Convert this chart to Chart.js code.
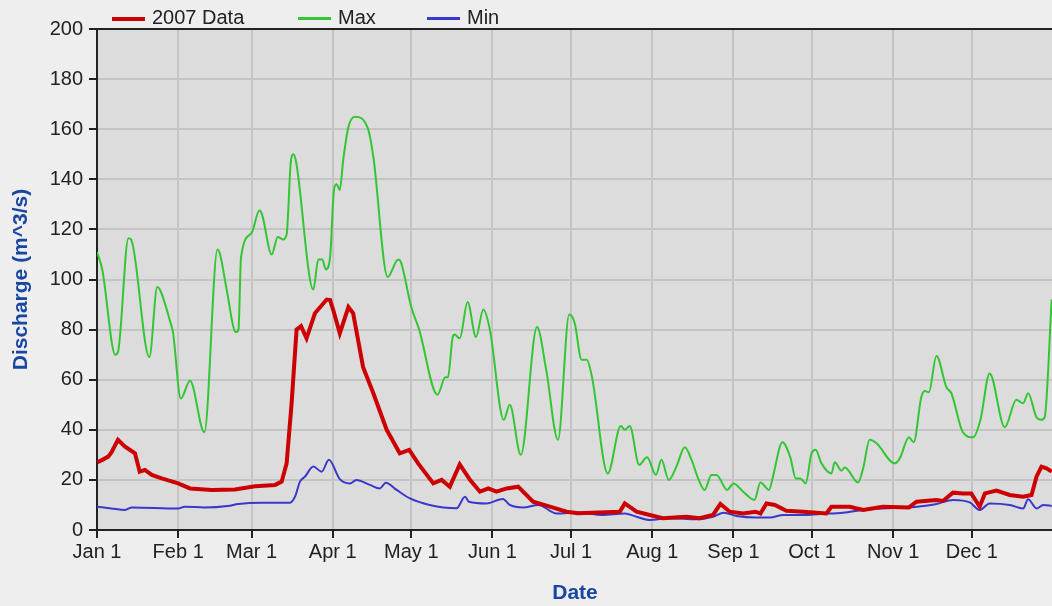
<!DOCTYPE html>
<html>
<head>
<meta charset="utf-8">
<script src="https://cdn.jsdelivr.net/npm/chart.js@4.4.1/dist/chart.umd.min.js"></script>
<style>
html, body { margin: 0; padding: 0; background: #eeeeee; overflow: hidden; }
#wrap { position: relative; width: 1052px; height: 606px; overflow: hidden; }
#chart { position: absolute; left: 0; top: 0; }
#legend { position: absolute; left: 0; top: 0; font: 20px "Liberation Sans", Arial, sans-serif; color: #222; }
.item { position: absolute; top: 5px; white-space: nowrap; line-height: 24px; }
.swatch { display: inline-block; width: 33px; vertical-align: middle; margin-right: 7px; }
</style>
</head>
<body>
<div id="wrap">
  <canvas id="chart" width="1062" height="606"></canvas>
  <div id="legend"></div>
</div>
<script>
// day of year (0 = Jan 1) for each month tick
var monthStarts = [0, 31, 59, 90, 120, 151, 181, 212, 243, 273, 304, 334];
var monthLabels = ['Jan 1', 'Feb 1', 'Mar 1', 'Apr 1', 'May 1', 'Jun 1', 'Jul 1', 'Aug 1', 'Sep 1', 'Oct 1', 'Nov 1', 'Dec 1'];

// 2007 Data
var dataDays = [0, 2, 4.3, 5.5, 8, 10.7, 14.5, 15.8, 16.3, 18.3, 20.9, 24.7, 31, 35.5, 43.8, 52.7, 60.3, 68, 70.5, 72.4, 74.3, 76.2, 77.9, 80, 83.2, 87.7, 89, 90.2, 92.7, 96, 97.8, 101.6, 105.5, 110.6, 115.6, 119.2, 122.6, 128.4, 131.6, 134.7, 138.5, 142.4, 146.2, 149.4, 152.5, 156.4, 160.8, 166.5, 172.9, 179.3, 183.6, 199.6, 201.5, 206, 211, 216, 225, 230, 235.2, 238, 241.6, 246.7, 251.4, 253.3, 255.6, 258.8, 263.2, 269.6, 278.5, 280.4, 287.4, 292.5, 300, 310, 312.9, 320.5, 323, 326.8, 330.6, 333.8, 337, 339, 343.4, 348.5, 353.6, 356.8, 358.7, 360.6, 362.5, 364.5];
var dataVals = [27, 28, 29.3, 31, 36, 33.3, 30.6, 25.3, 23.3, 24, 22, 20.6, 18.6, 16.6, 16, 16.2, 17.5, 18, 19.3, 26.6, 50.6, 80, 81.4, 76.5, 86.5, 92, 91.8, 87.8, 78.5, 89, 86.5, 65, 54.6, 40, 30.6, 32, 26.6, 18.6, 20, 17.3, 26.2, 20, 15.3, 16.6, 15.3, 16.6, 17.3, 11.3, 9.3, 7.3, 6.7, 7.3, 10.6, 7.3, 6, 4.7, 5.3, 4.7, 6, 10.4, 7.3, 6.6, 7.3, 6.6, 10.6, 10, 7.7, 7.3, 6.6, 9.3, 9.3, 8, 9.3, 9, 11.3, 12, 11.6, 14.9, 14.6, 14.6, 9.3, 14.6, 15.7, 14, 13.3, 14, 21.3, 25.3, 24.6, 23.3];

// Max
var maxDays = [0, 2, 7, 8, 12, 13, 20, 23, 24, 28, 29, 32, 35.5, 41, 46, 47, 49.5, 53, 54, 55, 59, 62, 63, 66.7, 69, 71, 72.4, 74, 75, 76, 82.6, 84.5, 86, 87.4, 89, 90.5, 91.5, 92.7, 94, 96, 98.5, 103.5, 105.5, 111, 115, 116, 120, 123, 130, 133, 134, 135.8, 136.5, 138.5, 141.5, 144.7, 147.5, 150, 155.3, 157.6, 161.8, 168, 171.5, 176, 180.3, 182.4, 185, 187, 189, 195, 200, 201.5, 203.4, 207, 210, 213.4, 215.5, 218.3, 221.3, 224.4, 227, 229.5, 232, 234.6, 236.5, 240.6, 243, 246.7, 251, 253.3, 256.6, 258, 261.7, 264.7, 266.8, 268.5, 270.6, 272.8, 274.4, 276.6, 280.4, 281.7, 284.2, 285.5, 290.6, 292.5, 295, 297.6, 304.6, 306.5, 310, 311.8, 314.7, 316, 317.6, 320.5, 324.3, 326.2, 330.6, 334.5, 337.3, 340.8, 346.6, 351, 353.6, 355.5, 358.7, 360.5, 361.8, 364.5];
var maxVals = [111, 104, 70, 71, 116.5, 116, 69, 97, 96, 83, 79, 52.5, 59.6, 39, 112, 110, 96, 79, 80, 109, 118.5, 127.5, 126, 110, 117, 116, 118, 147, 150, 147, 96, 108, 108, 104, 109, 136, 138, 135.7, 147.7, 161, 165, 160, 149, 101, 108, 107, 89, 80, 54, 61, 61, 77, 78, 76.5, 91, 77, 88, 80, 44, 50, 30, 81, 64, 36, 86, 82.5, 68, 68, 61, 22.6, 41.5, 40, 41.5, 26, 29, 22, 28, 20, 25.5, 33, 28, 20.6, 16, 22, 22, 16, 18.6, 15.3, 12, 19, 16, 21, 35, 29, 20.6, 20.6, 18.6, 30.6, 32, 26.6, 22.6, 27, 23.7, 25, 19, 24.6, 36, 34.6, 26.6, 28.6, 37, 35, 53, 55.5, 55, 69.5, 57, 54.6, 39, 37, 44, 62.5, 41, 52, 50.6, 54.6, 45, 44, 45, 92];

// Min
var minDays = [0, 5.5, 10.7, 13.3, 31, 33.5, 41, 50, 54, 62.9, 73.7, 75.6, 77.5, 79.4, 82.6, 85.8, 88.5, 92.7, 96.6, 99, 104.2, 108, 110.3, 114.4, 119.5, 127, 137.3, 140.5, 142, 148.7, 155, 157.6, 162.7, 168.5, 175.5, 184, 193, 201.5, 206, 211, 218.7, 228.9, 235.2, 239.3, 244.1, 251.8, 256.9, 262, 269.6, 276, 284.9, 292.5, 300, 310, 315.4, 320.5, 326.8, 333.2, 337, 340.8, 348.5, 353.6, 355.5, 358.7, 361.3, 364.5];
var minVals = [9.3, 8.6, 8, 9, 8.6, 9.3, 9, 9.6, 10.4, 10.9, 10.9, 13.3, 19.3, 21.3, 25.3, 23.3, 28, 20.3, 18.6, 20, 18, 16.6, 18.9, 16, 12.6, 10, 8.7, 13.3, 11.3, 10.6, 12.4, 10, 9, 10, 6.6, 7, 6, 6.6, 5.3, 4, 4.7, 4.3, 5.3, 6.9, 5.6, 5, 5, 6, 6, 6.4, 6.9, 8, 8.6, 9, 9.6, 10.4, 12, 11, 8, 10.6, 10, 8.6, 12.3, 8.6, 10, 9.6];

function points(days, vals) {
    return days.map(function(d, i) { return { x: d, y: vals[i] }; });
}

var plotFrame = {
    id: 'plotFrame',
    beforeDraw: function(chart) {
        var a = chart.chartArea, c = chart.ctx;
        c.save();
        c.fillStyle = '#dcdcdc';
        c.fillRect(a.left, a.top, a.right - a.left, a.bottom - a.top);
        c.restore();
    },
    afterDraw: function(chart) {
        var a = chart.chartArea, c = chart.ctx;
        c.save();
        c.strokeStyle = '#222';
        c.lineWidth = 2;
        c.beginPath();
        c.moveTo(a.left - 1, a.top);
        c.lineTo(a.right, a.top);
        c.stroke();
        c.restore();
    }
};

Chart.defaults.font.family = '"Liberation Sans", Arial, sans-serif';
Chart.defaults.color = '#222';

var gridOpts = { color: '#c4c4c4', lineWidth: 2, tickLength: 8, tickColor: '#222', tickWidth: 2 };
var titleFont = { size: 21, weight: 'bold' };
var titleColor = '#1846a0';

var chart = new Chart(document.getElementById('chart'), {
    type: 'line',
    data: {
        datasets: [{
            label: '2007 Data',
            data: points(dataDays, dataVals),
            borderColor: '#cc0000',
            backgroundColor: '#cc0000',
            borderWidth: 4,
            tension: 0
        }, {
            label: 'Max',
            data: points(maxDays, maxVals),
            borderColor: '#33c633',
            backgroundColor: '#33c633',
            borderWidth: 2,
            cubicInterpolationMode: 'monotone'
        }, {
            label: 'Min',
            data: points(minDays, minVals),
            borderColor: '#3838cc',
            backgroundColor: '#3838cc',
            borderWidth: 2,
            cubicInterpolationMode: 'monotone'
        }]
    },
    options: {
        responsive: false,
        devicePixelRatio: 1,
        animation: false,
        layout: { padding: { top: 29, right: 9, left: 0, bottom: 0 } },
        elements: { point: { radius: 0 } },
        plugins: { legend: { display: false }, tooltip: { enabled: false } },
        scales: {
            x: {
                type: 'linear',
                min: 0,
                max: 365,
                afterBuildTicks: function(scale) {
                    scale.ticks = monthStarts.map(function(v) { return { value: v }; });
                },
                afterFit: function(scale) { scale.height = 76; },
                ticks: {
                    autoSkip: false,
                    maxRotation: 0,
                    padding: 2,
                    font: { size: 20 },
                    callback: function(v) {
                        var i = monthStarts.indexOf(v);
                        return i < 0 ? '' : monthLabels[i];
                    }
                },
                grid: gridOpts,
                border: { color: '#222', width: 2 },
                title: { display: true, text: 'Date', color: titleColor, font: titleFont, padding: 0 }
            },
            y: {
                min: 0,
                max: 200,
                afterFit: function(scale) { scale.width = 97; },
                ticks: { stepSize: 20, padding: 6, font: { size: 20 } },
                grid: gridOpts,
                border: { color: '#222', width: 2 },
                title: { display: true, text: 'Discharge (m^3/s)', color: titleColor, font: titleFont, padding: { top: 9, bottom: 0 } }
            }
        }
    },
    plugins: [plotFrame]
});

// legend built from the datasets
var legendLeft = [112, 298, 427];
var legend = document.getElementById('legend');
chart.data.datasets.forEach(function(ds, i) {
    var item = document.createElement('div');
    item.className = 'item';
    item.style.left = legendLeft[i] + 'px';
    var sw = document.createElement('span');
    sw.className = 'swatch';
    sw.style.height = (ds.borderWidth === 4 ? 4 : 3) + 'px';
    sw.style.background = ds.borderColor;
    item.appendChild(sw);
    item.appendChild(document.createTextNode(ds.label));
    legend.appendChild(item);
});
</script>
</body>
</html>
